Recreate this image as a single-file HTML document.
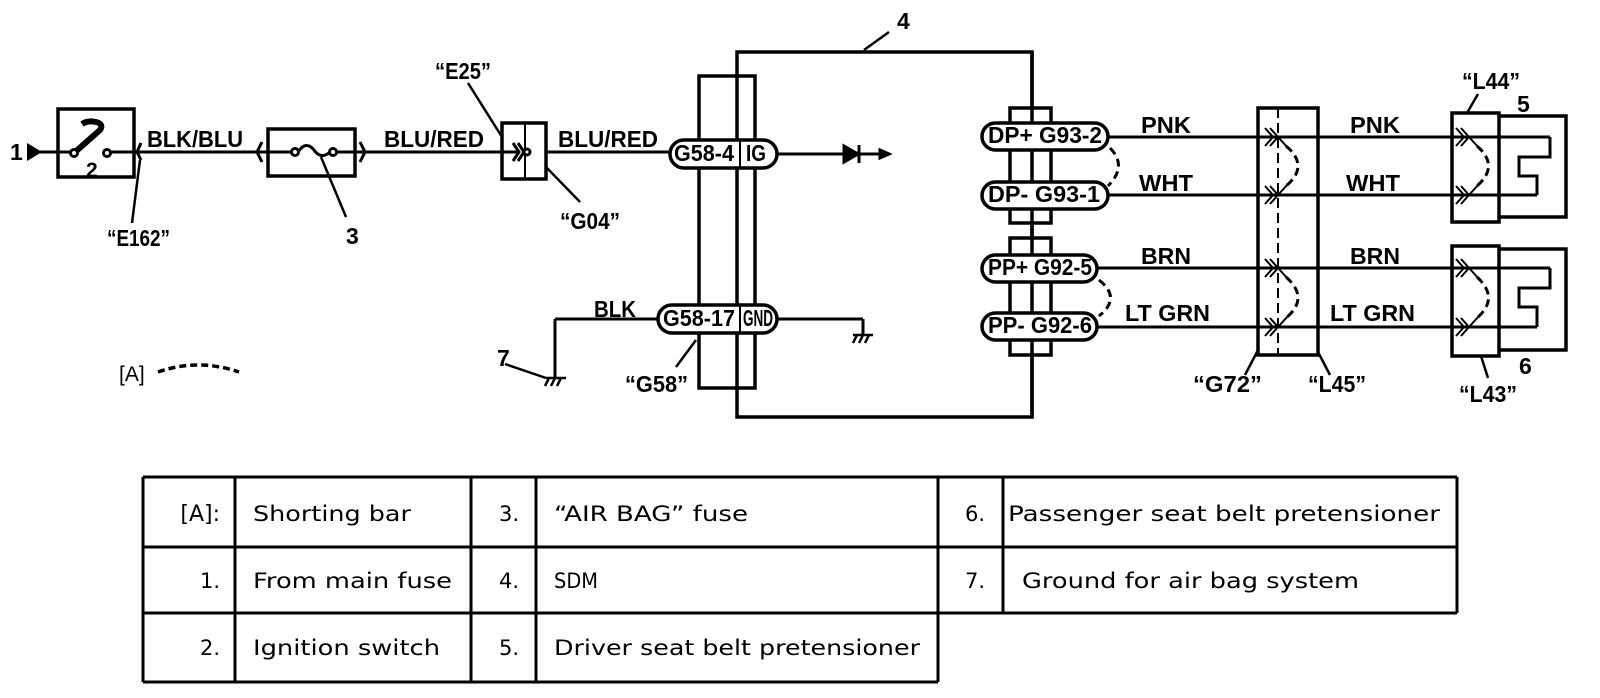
<!DOCTYPE html>
<html><head><meta charset="utf-8"><style>
html,body{margin:0;padding:0;background:#fff;}
svg{display:block;}
.t{font-family:"Liberation Sans",Arial,sans-serif;font-weight:bold;font-size:23px;fill:#000;}
.tb{font-family:"DejaVu Sans","Liberation Sans",sans-serif;font-size:21px;fill:#000;}
</style></head><body>
<svg width="1600" height="698" viewBox="0 0 1600 698" xmlns="http://www.w3.org/2000/svg">
<g fill="none" stroke="#000" stroke-width="3">
<line x1="38" y1="152" x2="670" y2="152"/>
<rect x="58" y="109" width="76" height="68" stroke-width="3.5" fill="#fff"/>
<line x1="38" y1="152" x2="74" y2="152"/>
<path d="M74 153 L100 130 Q104 124 96 122 Q88 120 82 124" stroke-width="6"/>
<circle cx="74" cy="153" r="3.5" fill="#fff"/>
<circle cx="107" cy="153" r="3.5" fill="#fff"/>
<line x1="111" y1="152" x2="134" y2="152"/>
<path d="M141 143 L137 152 L141 160"/>
<line x1="132" y1="223" x2="140" y2="160" stroke-width="2.5"/>
<rect x="268" y="129" width="87" height="47" stroke-width="3.5" fill="#fff"/>
<line x1="255" y1="152" x2="292" y2="152"/>
<line x1="336" y1="152" x2="370" y2="152"/>
<path d="M262 142 L257 152 L262 162 M360 142 L365 152 L360 162"/>
<circle cx="295" cy="152" r="3.5" fill="#fff"/>
<circle cx="333" cy="152" r="3.5" fill="#fff"/>
<path d="M298 152 Q306 140 314 150 Q321 160 330 152"/>
<line x1="321" y1="157" x2="346" y2="217" stroke-width="2.5"/>
<rect x="502" y="123" width="44" height="56" stroke-width="3.5" fill="#fff"/>
<line x1="525" y1="123" x2="525" y2="179" stroke-width="2"/>
<line x1="546" y1="152" x2="670" y2="152"/>
<line x1="502" y1="152" x2="520" y2="152"/>
<path d="M513 143 L519 152 L513 161 M518 143 L524 152 L518 161"/>
<circle cx="527" cy="152" r="3" fill="#fff"/>
<line x1="468" y1="83" x2="502" y2="137" stroke-width="2.5"/>
<line x1="547" y1="168" x2="580" y2="202" stroke-width="2.5"/>
<rect x="737" y="52" width="295" height="365" stroke-width="3.5"/>
<line x1="864" y1="50" x2="889" y2="32" stroke-width="2.5"/>
<rect x="699" y="76" width="56" height="312" stroke-width="3.5"/>
<line x1="676" y1="367" x2="696" y2="340" stroke-width="2.5"/>
<rect x="670" y="140" width="107" height="28" rx="14" stroke-width="3.5" fill="#fff"/>
<line x1="740" y1="140" x2="740" y2="168" stroke-width="2"/>
<line x1="777" y1="154" x2="880" y2="154"/>
<path d="M844 146 L858 154 L844 162 Z" fill="#000"/>
<line x1="859" y1="145" x2="859" y2="163" stroke-width="3"/>
<path d="M880 150 L889 154 L880 158 Z" fill="#000"/>
<line x1="555" y1="319" x2="660" y2="319"/>
<line x1="555" y1="319" x2="555" y2="378"/>
<path d="M546 378 L566 378 M549 378 L545 386 M555 378 L551 386 M561 378 L557 386" stroke-width="2.5"/>
<line x1="505" y1="364" x2="546" y2="378" stroke-width="2.5"/>
<rect x="658" y="305" width="119" height="28" rx="14" stroke-width="3.5" fill="#fff"/>
<line x1="740" y1="305" x2="740" y2="333" stroke-width="2"/>
<line x1="777" y1="319" x2="863" y2="319"/>
<line x1="863" y1="319" x2="863" y2="335"/>
<path d="M853 335 L873 335 M857 335 L853 343 M863 335 L859 343 M869 335 L865 343" stroke-width="2.5"/>
<rect x="1010" y="108" width="41" height="115" stroke-width="3.5" fill="#fff"/>
<rect x="1010" y="238" width="41" height="117" stroke-width="3.5" fill="#fff"/>
<line x1="1032" y1="52" x2="1032" y2="417" stroke-width="3.5"/>
<line x1="1108" y1="137" x2="1550" y2="137"/>
<line x1="1108" y1="195" x2="1537" y2="195"/>
<line x1="1097" y1="268" x2="1550" y2="268"/>
<line x1="1097" y1="327" x2="1537" y2="327"/>
<rect x="982" y="123" width="126" height="27" rx="13.5" stroke-width="3.5" fill="#fff"/>
<rect x="982" y="182" width="126" height="27" rx="13.5" stroke-width="3.5" fill="#fff"/>
<rect x="982" y="255" width="115" height="27" rx="13.5" stroke-width="3.5" fill="#fff"/>
<rect x="982" y="313" width="115" height="27" rx="13.5" stroke-width="3.5" fill="#fff"/>
<path d="M1110 148 Q1128 166 1108 186" stroke-dasharray="8,5" stroke-width="3"/>
<path d="M1099 280 Q1122 298 1099 316" stroke-dasharray="8,5" stroke-width="3"/>
<rect x="1258" y="108" width="60" height="247" stroke-width="3.5"/>
<line x1="1278" y1="108" x2="1278" y2="355" stroke-dasharray="10,5" stroke-width="2"/>
<g stroke-width="2">
<path d="M1270 128 L1278 137 L1270 146 M1265 128 L1273 137 L1265 146 M1278 137 L1288 148"/>
<path d="M1270 186 L1278 195 L1270 204 M1265 186 L1273 195 L1265 204 M1278 195 L1288 184"/>
<path d="M1270 259 L1278 268 L1270 277 M1265 259 L1273 268 L1265 277 M1278 268 L1288 279"/>
<path d="M1270 318 L1278 327 L1270 336 M1265 318 L1273 327 L1265 336 M1278 327 L1288 316"/>
</g>
<path d="M1286 146 Q1310 166 1286 186" stroke-dasharray="8,5" stroke-width="3"/>
<path d="M1286 277 Q1310 298 1286 318" stroke-dasharray="8,5" stroke-width="3"/>
<line x1="1245" y1="375" x2="1258" y2="350" stroke-width="2.5"/>
<line x1="1330" y1="375" x2="1318" y2="352" stroke-width="2.5"/>
<rect x="1452" y="113" width="47" height="109" stroke-width="3.5"/>
<rect x="1452" y="246" width="47" height="110" stroke-width="3.5"/>
<g stroke-width="2">
<path d="M1456 128 L1464 137 L1456 146 M1461 128 L1469 137 L1461 146 M1469 137 L1479 148"/>
<path d="M1456 186 L1464 195 L1456 204 M1461 186 L1469 195 L1461 204 M1469 195 L1479 184"/>
<path d="M1456 259 L1464 268 L1456 277 M1461 259 L1469 268 L1461 277 M1469 268 L1479 279"/>
<path d="M1456 318 L1464 327 L1456 336 M1461 318 L1469 327 L1461 336 M1469 327 L1479 316"/>
</g>
<path d="M1477 146 Q1500 166 1477 186" stroke-dasharray="8,5" stroke-width="3"/>
<path d="M1477 277 Q1500 298 1477 318" stroke-dasharray="8,5" stroke-width="3"/>
<line x1="1467" y1="113" x2="1478" y2="94" stroke-width="2.5"/>
<line x1="1481" y1="356" x2="1488" y2="378" stroke-width="2.5"/>
<path d="M1499 116 L1566 116 L1566 217 L1499 217" stroke-width="3.5"/>
<path d="M1499 249 L1566 249 L1566 350 L1499 350" stroke-width="3.5"/>
<path d="M1550 137 L1550 157 L1519 157 L1519 176 L1537 176 L1537 195"/>
<path d="M1550 268 L1550 288 L1519 288 L1519 307 L1537 307 L1537 327"/>
<path d="M158 372 Q198 358 239 372" stroke-dasharray="7,4" stroke-width="3.5"/>
</g>
<path d="M27 143 L42 152 L27 161 Z" fill="#000"/>
<g class="t">
<text x="10" y="160">1</text>
<text x="86" y="177" font-size="21">2</text>
<text x="147" y="147" textLength="96" lengthAdjust="spacingAndGlyphs">BLK/BLU</text>
<text x="384" y="147" textLength="100" lengthAdjust="spacingAndGlyphs">BLU/RED</text>
<text x="558" y="147" textLength="100" lengthAdjust="spacingAndGlyphs">BLU/RED</text>
<text x="435" y="79" textLength="56" lengthAdjust="spacingAndGlyphs">“E25”</text>
<text x="107" y="246" textLength="63" lengthAdjust="spacingAndGlyphs">“E162”</text>
<text x="346" y="244">3</text>
<text x="560" y="229" textLength="60" lengthAdjust="spacingAndGlyphs">“G04”</text>
<text x="594" y="317" textLength="42" lengthAdjust="spacingAndGlyphs">BLK</text>
<text x="497" y="366">7</text>
<text x="625" y="392" textLength="63" lengthAdjust="spacingAndGlyphs">“G58”</text>
<text x="119" y="381" font-weight="normal" font-size="21">[A]</text>
<text x="897" y="29">4</text>
<text x="1141" y="133" textLength="50" lengthAdjust="spacingAndGlyphs">PNK</text>
<text x="1139" y="191" textLength="54" lengthAdjust="spacingAndGlyphs">WHT</text>
<text x="1141" y="264" textLength="50" lengthAdjust="spacingAndGlyphs">BRN</text>
<text x="1125" y="321" textLength="85" lengthAdjust="spacingAndGlyphs">LT GRN</text>
<text x="1350" y="133" textLength="50" lengthAdjust="spacingAndGlyphs">PNK</text>
<text x="1346" y="191" textLength="54" lengthAdjust="spacingAndGlyphs">WHT</text>
<text x="1350" y="264" textLength="50" lengthAdjust="spacingAndGlyphs">BRN</text>
<text x="1330" y="321" textLength="85" lengthAdjust="spacingAndGlyphs">LT GRN</text>
<text x="1193" y="392" textLength="69" lengthAdjust="spacingAndGlyphs">“G72”</text>
<text x="1308" y="392" textLength="58" lengthAdjust="spacingAndGlyphs">“L45”</text>
<text x="1462" y="89" textLength="58" lengthAdjust="spacingAndGlyphs">“L44”</text>
<text x="1459" y="402" textLength="58" lengthAdjust="spacingAndGlyphs">“L43”</text>
<text x="1517" y="112">5</text>
<text x="1519" y="374">6</text>
</g>
<g class="t" font-size="17">
<text x="674" y="161" textLength="60" lengthAdjust="spacingAndGlyphs">G58-4</text>
<text x="746" y="161" textLength="20" lengthAdjust="spacingAndGlyphs">IG</text>
<text x="663" y="326" textLength="72" lengthAdjust="spacingAndGlyphs">G58-17</text>
<text x="743" y="326" textLength="30" lengthAdjust="spacingAndGlyphs">GND</text>
<text x="988" y="143" textLength="114" lengthAdjust="spacingAndGlyphs">DP+ G93-2</text>
<text x="988" y="202" textLength="112" lengthAdjust="spacingAndGlyphs">DP-  G93-1</text>
<text x="988" y="275" textLength="104" lengthAdjust="spacingAndGlyphs">PP+ G92-5</text>
<text x="988" y="333" textLength="104" lengthAdjust="spacingAndGlyphs">PP-  G92-6</text>
</g>
<g fill="none" stroke="#000" stroke-width="3">
<path d="M143 477 L1457 477 M143 547 L1457 547 M143 613 L1457 613 M143 682 L938 682"/>
<path d="M143 477 L143 682 M235 477 L235 682 M471 477 L471 682 M536 477 L536 682 M938 477 L938 682 M1003 477 L1003 613 M1457 477 L1457 613"/>
</g>
<g class="tb">
<text x="220" y="521" text-anchor="end" font-size="22">[A]:</text>
<text x="220" y="588" text-anchor="end">1.</text>
<text x="220" y="655" text-anchor="end">2.</text>
<text x="253" y="521" textLength="158" lengthAdjust="spacingAndGlyphs">Shorting bar</text>
<text x="253" y="588" textLength="199" lengthAdjust="spacingAndGlyphs">From main fuse</text>
<text x="253" y="655" textLength="187" lengthAdjust="spacingAndGlyphs">Ignition switch</text>
<text x="519" y="521" text-anchor="end">3.</text>
<text x="519" y="588" text-anchor="end">4.</text>
<text x="519" y="655" text-anchor="end">5.</text>
<text x="554" y="521" textLength="194" lengthAdjust="spacingAndGlyphs">“AIR BAG” fuse</text>
<text x="554" y="588" textLength="44" lengthAdjust="spacingAndGlyphs">SDM</text>
<text x="554" y="655" textLength="366" lengthAdjust="spacingAndGlyphs">Driver seat belt pretensioner</text>
<text x="985" y="521" text-anchor="end">6.</text>
<text x="985" y="588" text-anchor="end">7.</text>
<text x="1008" y="521" textLength="432" lengthAdjust="spacingAndGlyphs">Passenger seat belt pretensioner</text>
<text x="1022" y="588" textLength="337" lengthAdjust="spacingAndGlyphs">Ground for air bag system</text>
</g>
</svg>
</body></html>
